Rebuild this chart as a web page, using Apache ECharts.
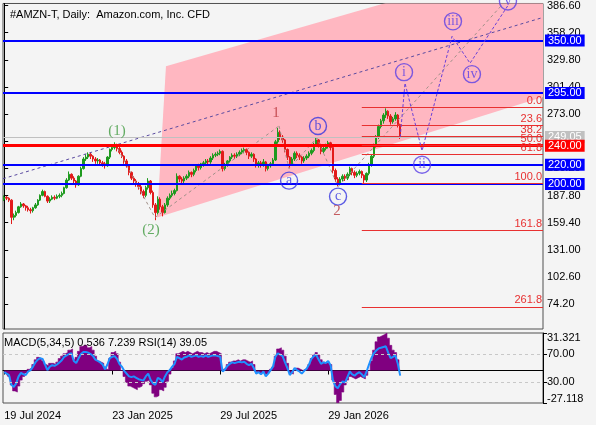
<!DOCTYPE html>
<html><head><meta charset="utf-8">
<script src="https://cdn.jsdelivr.net/npm/echarts@6/dist/echarts.min.js"></script>
<style>html,body{margin:0;padding:0;background:#f4f4f4}#c{width:596px;height:425px}</style>
</head><body><div id="c"></div>
<script>
// ---------- data ----------
const title = '#AMZN-T, Daily:  Amazon.com, Inc. CFD';
const indicatorTitle = 'MACD(5,34,5) 0.536 7.239 RSI(14) 39.05';
const slotCount = 225;
const dateLabels = ['19 Jul 2024', '23 Jan 2025', '29 Jul 2025', '29 Jan 2026'];
const dateSlots = [0, 45, 90, 135];
const priceTicks = [386.6, 358.2, 329.8, 301.4, 273.0, 244.6, 216.2, 187.8, 159.4, 131.0, 102.6, 74.2];
const firstOpen = 184;
const closes = [
186,185,183,165,167,170,176,179,177,175,
173,172,175,178,183,188,192,187,182,184,
186,185,187,188,190,196,204,210,206,203,
199,208,216,226,228,231,229,226,224,225,
222,221,219,228,236,238,241,237,233,229,
224,219,212,206,203,200,197,192,188,196,
203,191,178,170,184,176,170,178,185,188,
190,193,208,205,203,206,208,212,210,214,
219,217,221,222,224,223,227,230,231,232,
234,216,220,224,228,230,229,231,233,235,
236,233,229,231,226,220,222,220,223,216,
219,221,225,244,254,249,246,236,228,221,
226,232,230,228,224,227,229,232,235,241,
246,241,234,237,240,243,238,214,205,201,
205,208,206,210,216,212,209,211,213,209,
204,211,220,229,240,249,260,266,272,276,
271,265,268,272,262,249.05];
const highs = [
188,187.5,186,184,169,172,177,181,180,178,
177,175,176,180,184,189,194,193,188,186,
188,188,189,190,192,197,206,213,211,208,
204,209,218,228,231,233,233,230,228,227,
226,224,223,229,237,240,243.5,242,239,235,
230,226,220,213,208,205,202,199,194,198,
206,204,193,180,187,186,178,180,187,190,
193,195,211,209,207,208,210,214,213,216,
220,221,222,224,226,226,229,232,233,234,
236,235,222,225,229,232,232,233,235,237,
238,237,234,233,232,227,224,224,226,224,
221,223,227,246,258.5,256,251,247,237,229,
228,234,234,232,229,229,231,234,237,243,
248.5,247,242,239,242,245,244,239,216,207,
207,210,210,212,218,217,214,213,215,214,
210,212,222,231,242,251,262,268,274,279,
277,273,270,275,273,263];
const lows = [
182,183,181,158,162,165,169,175,175,172,
171,169,170,174,177,182,187,186,180,180,
183,183,184,185,186,189,195,203,204,200,
196,198,207,215,224,226,226,223,221,221,
219,218,216,218,226,234,236,234,231,227,
221,217,209,204,200,197,194,189,185,186,
194,189,175,162,168,173,166,169,176,183,
186,188,192,202,200,201,204,206,207,208,
212,214,215,218,220,220,221,225,228,229,
230,213,214,218,222,226,226,227,229,231,
232,230,226,227,223,217,217,217,218,213,
214,217,219,224,242,246,243,233,225,217,
219,224,227,225,221,222,225,227,230,233,
239,238,231,232,235,237,235,211,202,197.5,
199,203,203,204,208,209,206,207,209,206,
201,202,209,218,227,238,247,258,263,269,
268,262,263,266,259,247];
const macd = [
-2,-3,-5,-12,-17,-18,-13,-8,-5,-2,
1,2,5,9,11,10,8,5,4,6,
6,5,7,10,12,14,15,17,18,9,
11,16,20,21,21,19,20,17,12,8,
7,6,3,1,10,15,16,14,7,0,
-5,-10,-13,-14,-15,-16,-14,-13,-11,-9,
-8,-12,-19,-22,-21,-16,-17,-14,-9,-3,
2,8,14,15,16,15,16,15,14,15,
16,15,15,14,15,14,15,16,16,15,
14,1,2,5,7,8,8,9,8,9,
9,8,7,8,5,-1,-2,-2,-1,-3,
-2,1,3,12,18,19,17,12,6,-2,
-3,0,2,1,0,1,2,5,10,13,
15,13,9,7,6,7,5,-8,-20,-27,
-25,-18,-12,-8,-5,-6,-7,-6,-5,-6,
-7,-4,0,8,17,24,28,29,30,31.3,
27,21,17,15,9,0.536];
const rsi = [
44,42,40,26,23,28,38,43,41,40,
45,47,52,58,62,64,63,55,47,52,
54,53,55,58,61,66,68,70,71,60,
57,64,70,73,73,72,70,67,62,60,
58,55,48,55,64,66,67,63,56,52,
46,42,38,37,38,36,34,33,32,38,
42,33,28,26,36,34,30,38,44,47,
52,56,66,64,62,65,66,68,66,67,
68,66,67,66,68,66,67,68,68,67,
66,45,48,53,56,58,57,58,59,58,
59,56,54,56,50,42,44,41,45,38,
42,47,52,66,71,69,67,58,50,40,
44,50,47,45,42,46,49,55,63,67,
69,62,56,58,57,60,54,32,24,21,
27,31,29,37,45,41,39,42,44,41,
37,45,55,64,71,75,78,79,80,81,
72,64,66,68,56,39.05];
const macdMax = 31.321, macdMin = -27.118;
const rsiLevels = [70, 30];
const lastPrice = 249.05;
const blueLevels = [350, 295, 220, 200];
const redLevel = 240;
const fibRatios = [0, 23.6, 38.2, 50.0, 61.8, 100.0, 161.8, 261.8];
const fibTop = 280.1, fibBottom = 200.4, fibStartSlot = 149;
// overlays in [slot, price]
const trendLine = [[-0.5, 205.4], [224.5, 374.1]];
const channelPoly = [[67.4, 323.1], [224.5, 436.6], [224.5, 291], [63.7, 164.8]];
const structPath1 = [[46.2, 241.9], [62.8, 164.8], [114.5, 260.6]];
const structPath2 = [[114.5, 260.6], [118.7, 215.9], [130.3, 248.1], [139.1, 197.1]];
const structPath3 = [[139.1, 197.1], [208.7, 390.8]];
const projection = [[165, 249.05], [167, 305.4], [174.1, 234.6], [186.6, 354.3], [194.1, 326.2], [209.9, 386.6]];
const waveText = ['(1)', '(2)', '1', '2'];
const waveAt = [[47, 255.4], [61.2, 151.3], [113.25, 274.2], [138.7, 171.1]];
const abcText = ['a', 'b', 'c'];
const abcAt = [[118.7, 203.4], [130.75, 260.6], [139.1, 186.7]];
const romanText = ['i', 'ii', 'iii', 'iv', 'v'];
const romanAt = [[166.6, 316.9], [174.1, 220.0], [187.0, 370.0], [194.9, 314.8], [209.9, 390.8]];

// ---------- build ----------
const FONT = 'Liberation Sans';
const SERIF = 'Liberation Serif';
const cats = Array.from({length: slotCount}, (_, i) => String(i));
const ohlc = closes.map((c, i) => {
  const o = i === 0 ? firstOpen : closes[i - 1];
  return [o, c, Math.min(lows[i], o, c), Math.max(highs[i], o, c)];
});
const fmt2 = v => Number(v).toFixed(2);
const boxLabel = (bg, txt) => ({show: true, position: 'end', distance: 2, formatter: txt, color: '#fff',
  backgroundColor: bg, padding: [1, 3, 0, 3], fontSize: 11, fontFamily: FONT});

const levelData = [
  {yAxis: lastPrice, lineStyle: {color: '#c0c0c0', width: 1, type: 'solid'}, label: boxLabel('#c0c0c0', fmt2(lastPrice))},
  {yAxis: redLevel, lineStyle: {color: '#ff0000', width: 3, type: 'solid'}, label: boxLabel('#ff0000', fmt2(redLevel))}
].concat(blueLevels.map(v => ({yAxis: v, lineStyle: {color: '#0000ff', width: 2, type: 'solid'}, label: boxLabel('#0000ff', fmt2(v))})));

const fibData = fibRatios.map(r => {
  const p = fibTop - r / 100 * (fibTop - fibBottom);
  return [{coord: [fibStartSlot, p]}, {coord: [slotCount - 0.5, p],
    label: {show: true, position: 'insideEndTop', formatter: r.toFixed(1), color: '#e83030', fontSize: 11, fontFamily: FONT, distance: 1}}];
});

const dashLine = (data, color, dash, z) => ({type: 'line', xAxisIndex: 1, yAxisIndex: 0, data, symbol: 'none', silent: true,
  lineStyle: {color, width: 1, type: dash}, z: z || 4, clip: true, animation: false});

const circleSeries = (texts, pts, color) => ({type: 'scatter', xAxisIndex: 1, yAxisIndex: 0, clip: false, z: 6,
  data: pts.map((p, i) => ({value: p, name: texts[i]})), symbol: 'circle', symbolSize: 17,
  itemStyle: {color: 'rgba(0,0,0,0)', borderColor: color, borderWidth: 1.4},
  label: {show: true, position: 'inside', formatter: p => p.name, color, fontSize: 14, fontFamily: SERIF}});

const option = {
  animation: false,
  backgroundColor: '#f4f4f4',
  title: {text: title, left: 5, top: 4, textStyle: {fontSize: 11, fontWeight: 'normal', fontFamily: FONT, color: '#000'}},
  graphic: [{type: 'text', left: 4, top: 337, z: 10, style: {text: indicatorTitle, fontSize: 11, fontFamily: FONT, fill: '#000'}}],
  grid: [
    {left: 3, top: 2, width: 540, height: 327, show: true, borderColor: '#505050', borderWidth: 1, backgroundColor: 'transparent'},
    {left: 3, top: 333, width: 540, height: 70, show: true, borderColor: '#505050', borderWidth: 1, backgroundColor: 'transparent'}
  ],
  xAxis: [
    {type: 'category', gridIndex: 0, data: cats, boundaryGap: true, axisLine: {show: false}, axisTick: {show: false}, axisLabel: {show: false}, splitLine: {show: false}},
    {type: 'value', gridIndex: 0, min: -0.5, max: slotCount - 0.5, show: false, splitLine: {show: false}},
    {type: 'category', gridIndex: 1, data: cats, boundaryGap: true,
      axisLine: {show: true, lineStyle: {color: '#000'}},
      axisTick: {show: true, alignWithLabel: true, length: 4, interval: (i) => dateSlots.includes(i), lineStyle: {color: '#000'}},
      axisLabel: {interval: (i) => dateSlots.includes(i), formatter: (v, i) => dateLabels[dateSlots.indexOf(Number(v))] || '',
        align: 'left', margin: 7, fontSize: 11, fontFamily: FONT, color: '#000'},
      splitLine: {show: false}}
  ],
  yAxis: [
    {type: 'value', gridIndex: 0, position: 'right', min: 48.2, max: 388.7, scale: true,
      axisLine: {show: true, lineStyle: {color: '#000'}},
      axisTick: {show: true, customValues: priceTicks, length: 4, lineStyle: {color: '#000'}},
      axisLabel: {customValues: priceTicks, formatter: fmt2, fontSize: 11, fontFamily: FONT, color: '#000', margin: 4},
      splitLine: {show: false}},
    {type: 'value', gridIndex: 1, position: 'right', min: macdMin, max: macdMax, scale: true,
      axisLine: {show: true, lineStyle: {color: '#000'}},
      axisTick: {show: true, customValues: [macdMax, macdMin], length: 4, lineStyle: {color: '#000'}},
      axisLabel: {customValues: [macdMax, macdMin], margin: 4,
        formatter: v => v > 0 ? '{t|' + macdMax.toFixed(3) + '}' : '{b|' + macdMin.toFixed(3) + '}',
        rich: {t: {fontSize: 11, fontFamily: FONT, color: '#000', padding: [10, 0, 0, 0]}, b: {fontSize: 11, fontFamily: FONT, color: '#000', padding: [0, 0, 8, 0]}}},
      splitLine: {show: false}},
    {type: 'value', gridIndex: 1, position: 'right', min: 0, max: 100,
      axisLine: {show: false},
      axisTick: {show: true, customValues: rsiLevels, length: 4, lineStyle: {color: '#000'}},
      axisLabel: {customValues: rsiLevels, formatter: fmt2, fontSize: 11, fontFamily: FONT, color: '#000', margin: 4},
      splitLine: {show: false}}
  ],
  series: [
    {type: 'custom', xAxisIndex: 1, yAxisIndex: 0, z: 1, silent: true, data: [0],
      renderItem: (params, api) => {
        const pts = channelPoly.map(p => api.coord(p));
        const cs = params.coordSys;
        return {type: 'group', children: [{type: 'polygon', shape: {points: pts}, style: {fill: '#ffb7c1'}}],
          clipPath: {type: 'rect', shape: {x: cs.x, y: cs.y, width: cs.width, height: cs.height}}};
      }},
    {type: 'candlestick', xAxisIndex: 0, yAxisIndex: 0, data: ohlc, barWidth: 2, z: 3,
      itemStyle: {color: '#1e9a1e', color0: '#e21a1a', borderColor: '#1e9a1e', borderColor0: '#e21a1a', borderWidth: 1}},
    {type: 'line', xAxisIndex: 0, yAxisIndex: 0, data: [], z: 5, silent: true,
      markLine: {symbol: 'none', silent: true, animation: false, data: levelData}},
    Object.assign(dashLine(projection, '#6a40d8', [3, 2], 5), {
      markLine: {symbol: 'none', silent: true, animation: false, lineStyle: {color: '#e83030', width: 1, type: 'solid'}, data: fibData}}),
    dashLine(trendLine, '#5a4aa0', [3, 3]),
    dashLine(structPath1, '#a09088', [3, 3]),
    dashLine(structPath2, '#a09088', [3, 3]),
    dashLine(structPath3, '#a09088', [3, 3]),
    {type: 'scatter', xAxisIndex: 1, yAxisIndex: 0, z: 6, symbolSize: 0,
      data: waveAt.map((p, i) => ({value: p, name: waveText[i]})),
      label: {show: true, position: 'inside', formatter: p => p.name, fontSize: 15, fontFamily: SERIF},
      itemStyle: {color: 'transparent'}},
    circleSeries(abcText, abcAt, '#3434e0'),
    circleSeries(romanText, romanAt, '#5a3ee6'),
    {type: 'line', xAxisIndex: 2, yAxisIndex: 1, data: macd, symbol: 'none', step: 'middle', z: 2,
      lineStyle: {width: 0.6, color: '#800080'}, areaStyle: {color: '#800080', opacity: 1, origin: 0}},
    {type: 'line', xAxisIndex: 2, yAxisIndex: 2, data: rsi, symbol: 'none', z: 3, lineStyle: {color: '#1e90ff', width: 2},
      markLine: {symbol: 'none', silent: true, label: {show: false}, lineStyle: {color: '#c8c8c8', type: [3, 3], width: 1},
        data: rsiLevels.map(v => ({yAxis: v}))}}
  ]
};
// colour wave labels: green for (1),(2); dark red for 1,2
option.series[8].data.forEach((d, i) => { d.label = {color: i < 2 ? '#3f9a3f' : '#b8343a'}; });
const chart = echarts.init(document.getElementById('c'), null, {renderer: 'canvas', width: 596, height: 425});
chart.setOption(option);
</script>
</body></html>
